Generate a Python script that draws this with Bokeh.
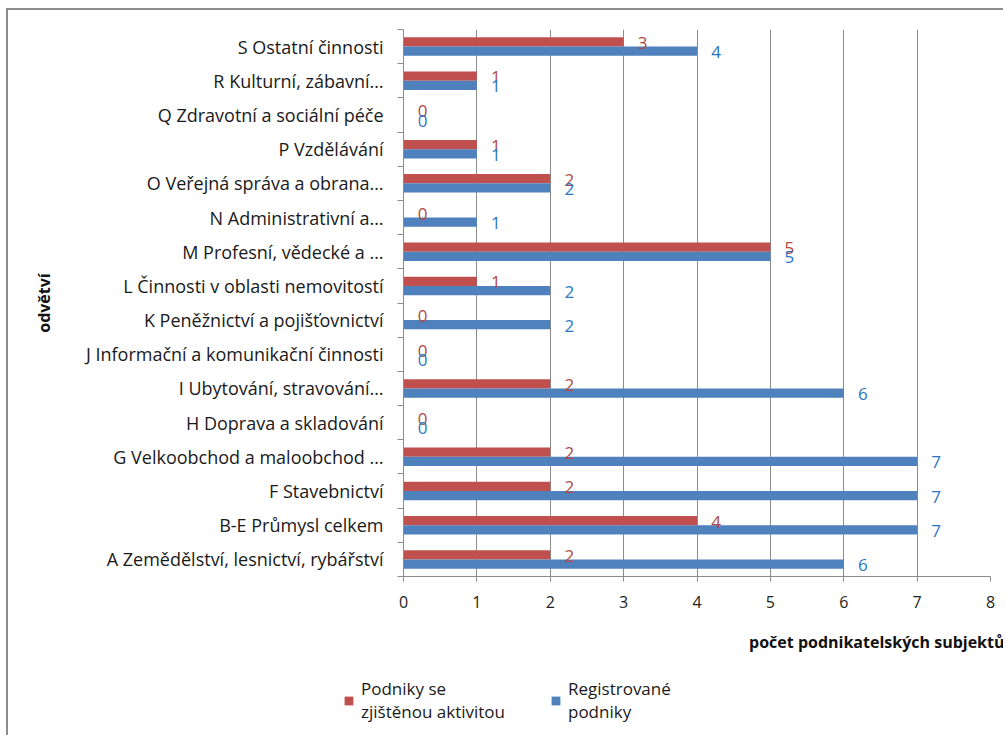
from bokeh.plotting import figure
from bokeh.models import Range1d, FixedTicker, Legend, LegendItem, ColumnDataSource, Title
from bokeh.embed import file_html
from bokeh.resources import INLINE
from bokeh.core.properties import value

categories = [
    "A Zemědělství, lesnictví, rybářství",
    "B-E Průmysl celkem",
    "F Stavebnictví",
    "G Velkoobchod a maloobchod …",
    "H Doprava a skladování",
    "I Ubytování, stravování…",
    "J Informační a komunikační činnosti",
    "K Peněžnictví a pojišťovnictví",
    "L Činnosti v oblasti nemovitostí",
    "M Profesní, vědecké a …",
    "N Administrativní a…",
    "O Veřejná správa a obrana…",
    "P Vzdělávání",
    "Q Zdravotní a sociální péče",
    "R Kulturní, zábavní…",
    "S Ostatní činnosti",
]
active = [2, 4, 2, 2, 0, 2, 0, 0, 1, 5, 0, 2, 1, 0, 1, 3]
registered = [6, 7, 7, 7, 0, 6, 0, 2, 2, 5, 1, 2, 1, 0, 1, 4]
x_ticks = [0, 1, 2, 3, 4, 5, 6, 7, 8]
series_names = ["Podniky se\nzjištěnou aktivitou", "Registrované\npodniky"]
x_title = "počet podnikatelských subjektů"
y_title = "odvětví"

RED = "#C0504D"
BLUE = "#4F81BD"
RED_TXT = "#B24845"
BLUE_TXT = "#2B77C4"
GRID = "#8C8C8C"
FONT = "Open Sans"

pos = list(range(len(categories)))
bh = 0.27
data = dict(
    pos=pos,
    pos_r=[p_ + bh / 2 for p_ in pos],
    pos_b=[p_ - bh / 2 for p_ in pos],
    active=active,
    registered=registered,
    active_t=[str(v) for v in active],
    registered_t=[str(v) for v in registered],
)
src = ColumnDataSource(data)

p = figure(width=997, height=660, output_backend="svg", toolbar_location=None,
           x_range=Range1d(0, 8), y_range=Range1d(-0.5, len(categories) - 0.5),
           min_border_left=395, min_border_right=15, min_border_top=19,
           min_border_bottom=89)
p.styles = {"margin-left": "6px", "margin-top": "8px",
            "border-left": "2px solid #8C8C8C", "border-top": "2px solid #8C8C8C"}
p.outline_line_color = None
p.background_fill_color = "white"
p.border_fill_color = "white"

r_red = p.hbar(y="pos_r", right="active", left=0, height=bh, source=src,
               fill_color=RED, line_color=None)
r_blue = p.hbar(y="pos_b", right="registered", left=0, height=bh, source=src,
                fill_color=BLUE, line_color=None)

p.text(x="active", y="pos_r", text="active_t", source=src, x_offset=19, y_offset=1,
       text_align="center", text_baseline="middle", text_color=RED_TXT,
       text_font=value(FONT), text_font_size="17px")
p.text(x="registered", y="pos_b", text="registered_t", source=src, x_offset=19, y_offset=1,
       text_align="center", text_baseline="middle", text_color=BLUE_TXT,
       text_font=value(FONT), text_font_size="17px")

# x axis
xa = p.xaxis[0]
xa.ticker = FixedTicker(ticks=x_ticks, minor_ticks=[])
xa.axis_line_color = GRID
xa.major_tick_line_color = GRID
xa.major_tick_out = 5
xa.major_tick_in = 0
xa.minor_tick_line_color = None
xa.major_label_standoff = 14
xa.major_label_text_font = FONT
xa.major_label_text_font_size = "16px"
xa.major_label_text_color = "#222222"

xt = Title(text=x_title, align="right", offset=-14, standoff=36,
           text_font=FONT, text_font_style="bold", text_font_size="16px",
           text_color="#111111")
p.add_layout(xt, "below")

# y axis
ya = p.yaxis[0]
ya.ticker = FixedTicker(ticks=pos, minor_ticks=[i - 0.5 for i in range(len(categories) + 1)])
ya.major_label_overrides = {i: c for i, c in enumerate(categories)}
ya.axis_line_color = GRID
ya.major_tick_out = 0
ya.major_tick_in = 0
ya.major_tick_line_color = None
ya.minor_tick_out = 6
ya.minor_tick_in = 0
ya.minor_tick_line_color = GRID
ya.major_label_standoff = 14
ya.major_label_text_font = FONT
ya.major_label_text_font_size = "18px"
ya.major_label_text_color = "#1A1A1A"
ya.axis_label = y_title
ya.axis_label_text_font = FONT
ya.axis_label_text_font_style = "bold"
ya.axis_label_text_font_size = "16px"
ya.axis_label_text_color = "#111111"
ya.axis_label_standoff = 28

p.xgrid.grid_line_color = GRID
p.xgrid.ticker = FixedTicker(ticks=x_ticks)
p.ygrid.grid_line_color = None

# legend strip below the chart (proxies of the same series, out of view)
src2 = ColumnDataSource(dict(data))
p2 = figure(width=997, height=67, output_backend="svg", toolbar_location=None,
            x_range=Range1d(0, 1), y_range=Range1d(100, 101),
            min_border=0, min_border_left=0, min_border_right=0,
            min_border_top=0, min_border_bottom=0)
p2.styles = {"margin-left": "6px", "border-left": "2px solid #8C8C8C"}
p2.axis.visible = False
p2.grid.visible = False
p2.outline_line_color = None
l_red = p2.hbar(y="pos_r", right="active", left=0, height=bh, source=src2,
                fill_color=RED, line_color=None)
l_blue = p2.hbar(y="pos_b", right="registered", left=0, height=bh, source=src2,
                 fill_color=BLUE, line_color=None)

legend = Legend(items=[LegendItem(label=series_names[0], renderers=[l_red]),
                       LegendItem(label=series_names[1], renderers=[l_blue])],
                orientation="horizontal", location=(335, 12),
                border_line_color=None, background_fill_alpha=0,
                padding=0, margin=0, spacing=45, label_standoff=7,
                glyph_width=11, glyph_height=11,
                label_text_font=FONT, label_text_font_size="17px",
                label_text_color="#1A1A1A", label_text_line_height=1.45)
p2.add_layout(legend, "center")

open("out.html", "w").write(file_html([p, p2], INLINE))
